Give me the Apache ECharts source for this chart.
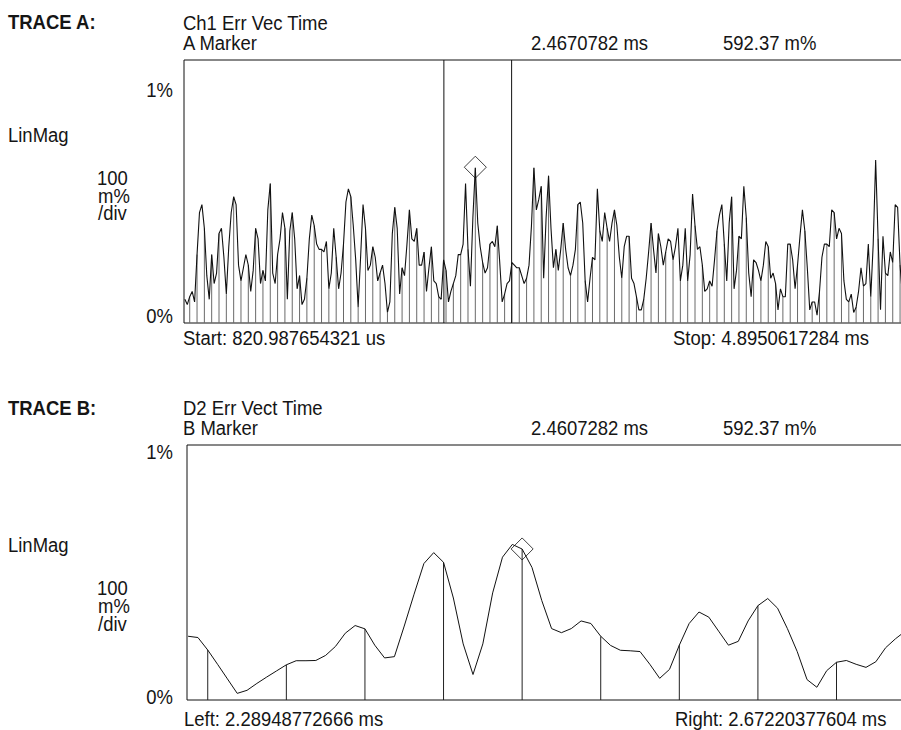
<!DOCTYPE html>
<html><head><meta charset="utf-8">
<script src="https://cdn.jsdelivr.net/npm/echarts@6/dist/echarts.min.js"></script>
<style>html,body{margin:0;padding:0;background:#fff;overflow:hidden}#c{width:960px;height:730px}</style>
</head><body><div id="c"></div>
<script>
// ---------- TRACE A (Ch1 Err Vec Time), values in % (0..1 %) ----------
const traceAStart = 0.820987654321;   // ms
const traceAStop = 4.8950617284;      // ms
const traceAFirstSample = 0.82571;    // ms
const traceASamplePeriod = 0.0137933; // ms (one third of a symbol)
const traceASamplesPerSymbol = 3;
const traceASymbolPhase = 2;          // sample index of first symbol
const traceAValues = [
0.09,0.07,0.10,0.12,0.08,0.26,0.42,0.45,0.36,0.18,
0.09,0.26,0.15,0.19,0.34,0.36,0.25,0.11,0.29,0.42,
0.48,0.45,0.22,0.16,0.21,0.26,0.22,0.12,0.20,0.36,
0.32,0.15,0.20,0.16,0.43,0.53,0.19,0.15,0.26,0.32,
0.42,0.36,0.09,0.35,0.42,0.32,0.13,0.18,0.07,0.09,
0.17,0.32,0.41,0.37,0.30,0.28,0.28,0.27,0.31,0.13,
0.19,0.36,0.25,0.13,0.19,0.30,0.46,0.51,0.48,0.37,
0.24,0.06,0.25,0.45,0.36,0.20,0.22,0.29,0.25,0.16,
0.19,0.22,0.15,0.04,0.08,0.34,0.44,0.36,0.11,0.21,
0.18,0.30,0.43,0.32,0.31,0.36,0.22,0.22,0.27,0.12,
0.21,0.29,0.16,0.15,0.10,0.09,0.24,0.20,0.08,0.12,
0.15,0.18,0.26,0.26,0.30,0.53,0.28,0.14,0.40,0.59,
0.38,0.29,0.23,0.19,0.21,0.30,0.31,0.29,0.37,0.23,
0.08,0.11,0.15,0.16,0.23,0.22,0.21,0.21,0.18,0.15,
0.17,0.22,0.37,0.59,0.43,0.47,0.52,0.17,0.40,0.56,
0.36,0.21,0.28,0.20,0.28,0.38,0.28,0.21,0.18,0.22,
0.28,0.45,0.46,0.38,0.16,0.08,0.17,0.25,0.24,0.51,
0.35,0.31,0.42,0.36,0.31,0.38,0.43,0.37,0.25,0.17,
0.29,0.33,0.33,0.17,0.15,0.10,0.05,0.05,0.09,0.17,
0.27,0.38,0.28,0.19,0.34,0.29,0.22,0.27,0.32,0.31,
0.24,0.29,0.36,0.16,0.22,0.36,0.16,0.26,0.49,0.37,
0.28,0.29,0.22,0.12,0.13,0.16,0.14,0.24,0.35,0.41,
0.45,0.30,0.16,0.38,0.48,0.13,0.20,0.33,0.32,0.52,
0.40,0.19,0.10,0.24,0.23,0.20,0.16,0.22,0.31,0.29,
0.17,0.19,0.15,0.05,0.13,0.10,0.10,0.30,0.30,0.24,
0.13,0.22,0.33,0.43,0.35,0.21,0.05,0.08,0.08,0.03,
0.12,0.25,0.30,0.30,0.29,0.43,0.42,0.32,0.36,0.34,
0.16,0.09,0.08,0.11,0.04,0.06,0.12,0.21,0.14,0.15,
0.30,0.10,0.30,0.62,0.32,0.05,0.33,0.19,0.18,0.27,
0.23,0.45,0.44,0.22,0.10,0.15
];
const traceAGate = [2.28948772666, 2.67220377604]; // ms
const markerA = [2.4670782, 0.59237];              // ms, %

// ---------- TRACE B (D2 Err Vect Time) ----------
const traceBLeft = 2.28948772666;   // ms
const traceBRight = 2.67220377604;  // ms
const traceBFirstSample = 2.29005;  // ms
const traceBSamplePeriod = 0.00502; // ms (one eighth of a symbol)
const traceBSamplesPerSymbol = 8;
const traceBSymbolPhase = 2;
const traceBValues = [
0.25,0.245,0.196,0.14,0.083,0.026,0.038,0.065,0.09,0.114,
0.138,0.154,0.154,0.155,0.175,0.21,0.262,0.292,0.279,0.215,
0.165,0.17,0.29,0.415,0.535,0.578,0.54,0.40,0.22,0.10,
0.22,0.42,0.56,0.61,0.592,0.52,0.39,0.28,0.264,0.28,
0.31,0.30,0.25,0.214,0.195,0.193,0.19,0.14,0.085,0.12,
0.215,0.30,0.345,0.325,0.27,0.215,0.23,0.31,0.37,0.398,
0.36,0.28,0.19,0.08,0.05,0.115,0.148,0.155,0.14,0.128,
0.15,0.205,0.24,0.27
];
const markerB = [2.4607282, 0.59237];

// ---------- build ----------
const ptsA = traceAValues.map((v, i) => [traceAFirstSample + i * traceASamplePeriod, v]);
const stemsA = ptsA.filter((p, i) => i % traceASamplesPerSymbol === traceASymbolPhase);
const ptsB = traceBValues.map((v, i) => [traceBFirstSample + i * traceBSamplePeriod, v]);
const stemsB = ptsB.filter((p, i) => i % traceBSamplesPerSymbol === traceBSymbolPhase);

const FONT = '"Liberation Sans", Arial, sans-serif';
function stemRenderer(color, full) {
  return function (params, api) {
    const t = api.value(0);
    const top = api.coord([t, full ? 1 : api.value(1)]);
    const bot = api.coord([t, 0]);
    return { type: 'line', shape: { x1: bot[0], y1: bot[1], x2: top[0], y2: top[1] },
      style: { stroke: color, lineWidth: 1 } };
  };
}
function txt(s, x, y, align, bold) {
  return { type: 'text', x: x, y: y, scaleX: 0.88, silent: true,
    style: { text: s, x: 0, y: 0, fill: '#151515',
      font: (bold ? 'bold ' : '') + '21px ' + FONT,
      align: align || 'left', verticalAlign: 'middle',
      textAlign: align || 'left', textVerticalAlign: 'middle' } };
}

const chart = echarts.init(document.getElementById('c'), null, { renderer: 'svg' });
chart.setOption({
  animation: false,
  backgroundColor: '#fff',
  grid: [
    { left: 184, top: 60, width: 721, height: 263, show: true, borderColor: '#111', borderWidth: 1, backgroundColor: 'transparent' },
    { left: 187, top: 445, width: 749, height: 255, show: true, borderColor: '#111', borderWidth: 1, backgroundColor: 'transparent' }
  ],
  xAxis: [
    { type: 'value', gridIndex: 0, min: traceAStart, max: traceAStop, show: false },
    { type: 'value', gridIndex: 1, min: traceBLeft, max: traceBRight, show: false }
  ],
  yAxis: [
    { type: 'value', gridIndex: 0, min: 0, max: 1, show: false },
    { type: 'value', gridIndex: 1, min: 0, max: 1, show: false }
  ],
  series: [
    { type: 'custom', xAxisIndex: 0, yAxisIndex: 0, data: stemsA, renderItem: stemRenderer('#6a6a6a', false), silent: true },
    { type: 'custom', xAxisIndex: 0, yAxisIndex: 0, data: traceAGate.map(t => [t, 1]), renderItem: stemRenderer('#111', true), silent: true },
    { type: 'line', xAxisIndex: 0, yAxisIndex: 0, data: ptsA, symbol: 'none', silent: true,
      lineStyle: { color: '#111', width: 1.1 } },
    { type: 'scatter', xAxisIndex: 0, yAxisIndex: 0, data: [markerA], symbol: 'diamond', symbolSize: 22, silent: true,
      itemStyle: { color: 'rgba(0,0,0,0)', borderColor: '#111', borderWidth: 1 } },
    { type: 'custom', xAxisIndex: 1, yAxisIndex: 1, data: stemsB, renderItem: stemRenderer('#222', false), silent: true },
    { type: 'line', xAxisIndex: 1, yAxisIndex: 1, data: ptsB, symbol: 'none', silent: true,
      lineStyle: { color: '#111', width: 1 } },
    { type: 'scatter', xAxisIndex: 1, yAxisIndex: 1, data: [markerB], symbol: 'diamond', symbolSize: 22, silent: true,
      itemStyle: { color: 'rgba(0,0,0,0)', borderColor: '#111', borderWidth: 1 } }
  ],
  graphic: [
    txt('TRACE A:', 8, 22, 'left', true),
    txt('Ch1 Err Vec Time', 183, 23),
    txt('A Marker', 183, 43),
    txt('2.4670782 ms', 531, 43),
    txt('592.37 m%', 723, 43),
    txt('1%', 173, 90, 'right'),
    txt('LinMag', 8, 135),
    txt('100', 97, 178),
    txt('m%', 98, 196),
    txt('/div', 98, 213),
    txt('0%', 173, 316, 'right'),
    txt('Start: 820.987654321 us', 183, 338),
    txt('Stop: 4.8950617284 ms', 673, 338),
    txt('TRACE B:', 8, 408, 'left', true),
    txt('D2 Err Vect Time', 183, 408),
    txt('B Marker', 183, 428),
    txt('2.4607282 ms', 531, 428),
    txt('592.37 m%', 723, 428),
    txt('1%', 173, 452, 'right'),
    txt('LinMag', 8, 545),
    txt('100', 97, 588),
    txt('m%', 98, 606),
    txt('/div', 98, 624),
    txt('0%', 173, 697, 'right'),
    txt('Left: 2.28948772666 ms', 184, 719),
    txt('Right: 2.67220377604 ms', 675, 719)
  ]
});
</script></body></html>
